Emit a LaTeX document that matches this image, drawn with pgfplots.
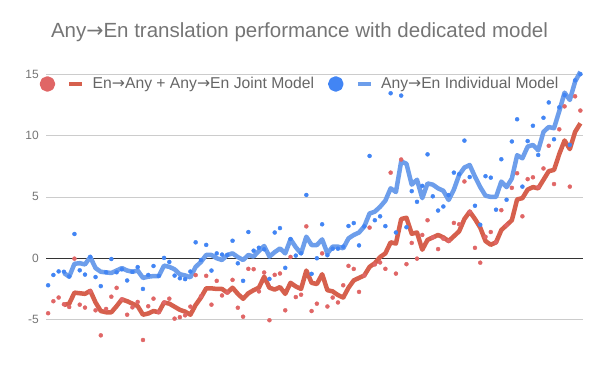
\documentclass[border=0pt]{standalone}
\usepackage{pgfplots}
\pgfplotsset{compat=1.18}
\usepackage{pgfplotstable}
\usepackage{fontspec}
\setmainfont{Liberation Sans}
\newfontfamily\arrowfont{DejaVu Sans}
\newcommand{\ar}{{\arrowfont →}}

\definecolor{reddot}{HTML}{E06666}
\definecolor{redline}{HTML}{D6604D}
\definecolor{bluedot}{HTML}{4285F4}
\definecolor{blueline}{HTML}{6D9EEB}
\definecolor{txtgray}{HTML}{757575}
\definecolor{leggray}{HTML}{666666}
\definecolor{gridgray}{HTML}{CCCCCC}

% per-language scores: x, joint model (jd), individual model (id)
\pgfplotstableread{
x jd id
0 -4.48 -2.2
1 -3.5 -1.36
2 -3.2 -1.07
3 -3.75 -1.1
4 -3.97 -1.48
5 -0.03 1.98
6 -3.78 -0.98
7 -4.02 -1.33
8 -2.7 0.12
9 -4.24 -1.53
10 -6.28 -2.27
11 -4.13 -1.14
12 -3.13 -0.06
13 -2.41 -1.14
14 -3.35 -0.9
15 -4.6 -1.81
16 -4.0 -1.1
17 -3.56 -0.72
18 -6.66 -2.5
19 -3.91 -1.36
20 -3.29 -0.63
21 -4.4 -1.44
22 -3.6 0.03
23 -3.29 -0.3
24 -4.92 -1.41
25 -4.8 -1.63
26 -4.65 -1.7
27 -3.94 -1.08
28 -1.37 1.3
29 -3.1 -0.14
30 -1.43 1.09
31 -3.78 -1.0
32 -1.84 0.4
33 -3.03 0.3
34 -2.8 0.27
35 -1.76 1.43
36 -4.03 -0.41
37 -4.76 -1.84
38 -0.86 2.14
39 -0.89 0.62
40 -2.7 0.86
41 -1.16 0.73
42 -5.05 -1.68
43 -1.35 2.1
44 -1.24 2.46
45 -4.24 -0.78
46 0.11 1.57
47 -3.16 0.22
48 -2.97 0.41
49 2.6 5.16
50 -4.3 -1.27
51 -3.7 0.0
52 0.4 2.77
53 -3.93 0.25
54 -3.2 0.78
55 -3.6 0.78
56 -2.2 0.95
57 -0.62 2.63
58 -0.87 2.87
59 -2.74 1.05
60 -1.4 2.6
61 2.5 8.34
62 -0.5 3.1
63 -0.34 3.42
64 -0.86 2.62
65 6.98 13.45
66 -1.25 2.1
67 8.05 13.26
68 -0.48 2.53
69 1.25 5.47
70 -0.03 4.6
71 1.9 5.9
72 3.1 8.47
73 1.7 5.05
74 0.75 3.89
75 1.6 4.22
76 1.4 5.15
77 2.88 6.98
78 2.77 6.85
79 6.26 9.59
80 3.8 6.62
81 0.85 4.28
82 -0.36 2.73
83 1.75 6.69
84 2.14 6.57
85 1.3 3.96
86 3.92 8.07
87 2.7 4.77
88 5.74 9.52
89 6.93 11.33
90 3.42 5.84
91 6.45 9.55
92 6.6 10.8
93 5.8 8.42
94 7.32 11.45
95 9.17 12.7
96 6.05 9.7
97 10.51 12.3
98 12.38 13.3
99 5.84 9.24
100 13.2 14.5
101 12.04 15.0
}\dots

% trend lines
\pgfplotstableread{
x jl il
3 -3.8 -1.2
4 -3.7 -1.5
5 -2.8 -0.45
6 -2.85 -0.4
7 -2.9 -0.5
8 -2.65 0.1
9 -3.6 -0.8
10 -4.3 -1.1
11 -4.4 -1.15
12 -4.4 -1.2
13 -3.9 -1.0
14 -3.35 -0.8
15 -3.5 -1.0
16 -3.7 -1.1
17 -3.9 -1.0
18 -4.6 -1.6
19 -4.5 -1.5
20 -4.3 -1.45
21 -4.4 -1.45
22 -3.6 -0.6
23 -3.7 -0.7
24 -3.95 -0.9
25 -4.2 -1.3
26 -4.35 -1.4
27 -4.6 -1.55
28 -3.8 -0.7
29 -3.2 -0.3
30 -2.45 0.27
31 -2.45 0.27
32 -2.5 0.0
33 -2.5 -0.14
34 -2.8 0.27
35 -2.4 0.4
36 -2.9 0.1
37 -3.3 -0.14
38 -2.85 0.27
39 -2.6 0.14
40 -2.4 0.6
41 -1.5 1.0
42 -2.4 0.14
43 -2.55 0.5
44 -2.35 0.8
45 -2.9 0.4
46 -2.0 1.55
47 -2.3 0.9
48 -2.5 0.4
49 -1.0 1.76
50 -2.0 1.08
51 -2.1 1.08
52 -1.3 1.54
53 -2.6 0.4
54 -2.7 0.95
55 -3.0 0.95
56 -3.2 0.81
57 -2.4 1.62
58 -1.8 1.9
59 -1.6 2.1
60 -1.4 2.6
61 -0.7 3.65
62 -0.4 3.8
63 0.1 4.2
64 0.4 4.7
65 1.3 5.7
66 1.2 5.4
67 3.2 7.9
68 3.3 7.7
69 2.0 6.0
70 2.1 6.4
71 0.7 4.9
72 1.5 6.1
73 1.7 6.0
74 1.9 5.7
75 1.7 5.5
76 1.4 4.75
77 1.8 5.6
78 2.2 6.8
79 3.2 7.4
80 3.8 7.6
81 3.2 6.65
82 2.5 5.8
83 1.4 5.1
84 1.1 5.0
85 1.3 5.0
86 2.3 6.25
87 2.7 5.8
88 3.1 6.5
89 4.8 8.4
90 4.9 8.15
91 5.6 9.1
92 5.8 9.24
93 5.7 8.8
94 6.4 10.3
95 7.1 10.7
96 7.2 10.6
97 8.5 12.0
98 9.6 13.5
99 8.9 12.9
100 10.3 14.4
101 11.0 15.2
}\trend

\begin{document}
\begin{tikzpicture}
\path[use as bounding box] (0,0) rectangle (600bp,371bp);
\node[font=\fontsize{20.5bp}{24bp}\selectfont, text=txtgray] at (299.5bp,339bp)
  {Any\ar En translation performance with dedicated model};
\begin{axis}[
    at={(46bp,20.7bp)}, anchor=south west,
    scale only axis, width=537bp, height=282.2bp,
    xmin=-0.4, xmax=101.5, ymin=-7.5, ymax=15.5,
    axis line style={draw=none},
    tick style={draw=none},
    xtick=\empty,
    ytick={-5,5,10,15},
    yticklabels={-5,5,10,15},
    extra y ticks={0},
    extra y tick labels={0},
    extra y tick style={grid style={black!80, line width=1bp}},
    ymajorgrids,
    grid style={gridgray, line width=0.8bp},
    yticklabel style={font=\fontsize{12bp}{14bp}\selectfont, text=txtgray,
      inner sep=0pt, xshift=-7bp},
    legend columns=2,
    legend style={at={(-0.0121,0.9437)}, anchor=west, draw=none, fill=none,
      inner sep=0pt, font=\fontsize{15.7bp}{18bp}\selectfont, text=leggray,
      nodes={inner sep=0pt},
      /tikz/every odd column/.append style={column sep=8bp},
      /tikz/every even column/.append style={column sep=14bp}},
  ]
  \addplot[redline, line width=4.5bp, line join=round,
    legend image code/.code={
      \fill[reddot] (0bp,0bp) circle (5.5bp);
      \draw[redline, line width=4.5bp] (22bp,0bp) -- (35bp,0bp);}]
    table[x=x, y=jl] {\trend};
  \addlegendentry{En\ar Any + Any\ar En Joint Model}
  \addplot[blueline, line width=4.5bp, line join=round,
    legend image code/.code={
      \fill[bluedot] (0bp,0bp) circle (5.5bp);
      \draw[blueline, line width=4.5bp] (22bp,0bp) -- (35bp,0bp);}]
    table[x=x, y=il] {\trend};
  \addlegendentry{Any\ar En Individual Model}
  \addplot[only marks, mark=*, mark size=2bp, reddot, mark options={draw=none, fill=reddot}, forget plot]
    table[x=x, y=jd] {\dots};
  \addplot[only marks, mark=*, mark size=2bp, bluedot, mark options={draw=none, fill=bluedot}, forget plot]
    table[x=x, y=id] {\dots};
\end{axis}
\end{tikzpicture}
\end{document}
